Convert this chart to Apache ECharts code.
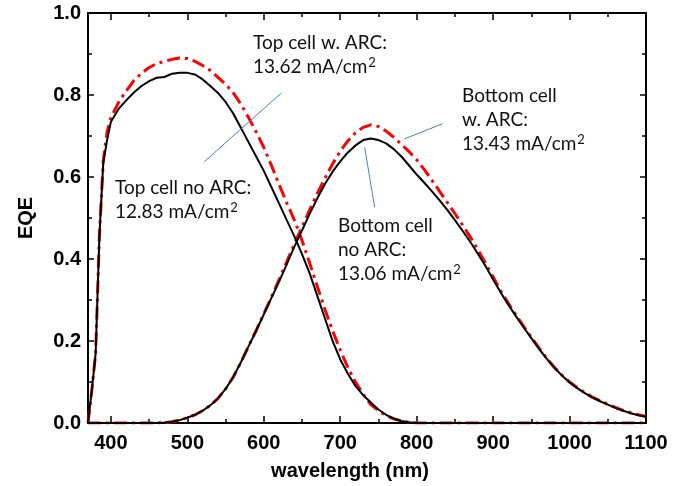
<!DOCTYPE html>
<html>
<head>
<meta charset="utf-8">
<script src="https://cdn.jsdelivr.net/npm/echarts@6/dist/echarts.min.js"></script>
<style>
  html, body { margin: 0; padding: 0; background: #fff; }
  #chart { width: 696px; height: 486px; }
</style>
</head>
<body>
<div id="chart"></div>
<script>
// wavelength grids (nm)
var wlTop = [370, 375, 380, 385, 390, 395, 400, 410, 420, 430, 440, 450, 460, 470, 480, 490, 500,
  510, 520, 530, 540, 550, 560, 570, 580, 590, 600, 610, 620, 630, 640, 650, 660, 670, 680, 690, 700,
  710, 720, 730, 740, 750, 760, 770, 780, 790, 800, 850, 900, 950, 1000, 1050, 1100];
var wlBottom = [370, 420, 460, 470, 480, 490, 500, 510, 520, 530, 540, 550, 560, 570, 580, 590, 600,
  610, 620, 630, 640, 650, 660, 670, 680, 690, 700, 710, 720, 730, 740, 750, 760, 770, 780, 790, 800,
  810, 820, 830, 840, 850, 860, 870, 880, 890, 900, 910, 920, 930, 940, 950, 960, 970, 980, 990, 1000,
  1010, 1020, 1030, 1040, 1050, 1060, 1070, 1080, 1090, 1100];

// EQE values
var topNoArc = [0, 0.08, 0.17, 0.46, 0.635, 0.69, 0.735, 0.766, 0.787, 0.806, 0.822, 0.834, 0.842, 0.844,
  0.852, 0.854, 0.854, 0.85, 0.838, 0.822, 0.805, 0.783, 0.755, 0.72, 0.685, 0.65, 0.615, 0.575, 0.535,
  0.495, 0.455, 0.412, 0.365, 0.31, 0.255, 0.2, 0.155, 0.12, 0.09, 0.068, 0.05, 0.033, 0.02, 0.011,
  0.005, 0.002, 0, 0, 0, 0, 0, 0, 0];
var topArc = [0, 0.08, 0.17, 0.46, 0.64, 0.71, 0.745, 0.782, 0.81, 0.835, 0.853, 0.867, 0.877, 0.882,
  0.887, 0.89, 0.889, 0.882, 0.872, 0.86, 0.843, 0.826, 0.805, 0.778, 0.745, 0.71, 0.672, 0.628, 0.582,
  0.537, 0.495, 0.445, 0.39, 0.333, 0.277, 0.225, 0.178, 0.135, 0.1, 0.07, 0.045, 0.03, 0.018, 0.01,
  0.005, 0.002, 0, 0, 0, 0, 0, 0, 0];
var bottomNoArc = [0, 0, 0, 0.001, 0.003, 0.007, 0.013, 0.02, 0.03, 0.043, 0.06, 0.083, 0.112,
  0.148, 0.187, 0.225, 0.265, 0.305, 0.345, 0.387, 0.43, 0.47, 0.51,
  0.548, 0.583, 0.613, 0.638, 0.66, 0.677, 0.69, 0.694, 0.69, 0.682,
  0.668, 0.65, 0.628, 0.606, 0.586, 0.565, 0.543, 0.52, 0.495, 0.469,
  0.442, 0.413, 0.383, 0.35, 0.318, 0.288, 0.26, 0.233, 0.207, 0.181,
  0.157, 0.135, 0.116, 0.099, 0.085, 0.073, 0.062, 0.053, 0.045, 0.037,
  0.03, 0.024, 0.019, 0.015];
var bottomArc = [0, 0, 0, 0.001, 0.003, 0.007, 0.013, 0.02, 0.03, 0.043, 0.06, 0.083, 0.112,
  0.148, 0.187, 0.226, 0.266, 0.307, 0.35, 0.393, 0.437, 0.478, 0.52,
  0.56, 0.597, 0.632, 0.663, 0.688, 0.708, 0.721, 0.727, 0.723, 0.712,
  0.697, 0.68, 0.662, 0.642, 0.618, 0.592, 0.565, 0.538, 0.511, 0.483,
  0.454, 0.423, 0.39, 0.356, 0.322, 0.292, 0.263, 0.236, 0.209, 0.183,
  0.158, 0.136, 0.117, 0.1, 0.086, 0.074, 0.063, 0.054, 0.046, 0.038,
  0.031, 0.025, 0.02, 0.016];

// axis ticks
var xMajor = [400, 500, 600, 700, 800, 900, 1000, 1100];
var xMinor = [450, 550, 650, 750, 850, 950, 1050];

// annotation texts ({s|2} = superscript)
var notes = [
  'Top cell w. ARC:\n13.62 mA/cm{s|2}',
  'Top cell no ARC:\n12.83 mA/cm{s|2}',
  'Bottom cell\nw. ARC:\n13.43 mA/cm{s|2}',
  'Bottom cell\nno ARC:\n13.06 mA/cm{s|2}'
];
// leader lines, in data coords [wavelength, EQE]
var leaders = [
  [[623, 0.805], [522, 0.637]],
  [[834, 0.73], [784, 0.693]],
  [[732, 0.672], [745, 0.526]]
];

function pairs(xs, ys) {
  return xs.map(function (x, i) { return [x, ys[i]]; });
}

var chart = echarts.init(document.getElementById('chart'));

var tickFont = { color: '#000', fontFamily: 'Liberation Sans', fontWeight: 'bold', fontSize: 20 };

function xAx(pos, ticks, len, withLine, withLabel) {
  return {
    type: 'value', position: pos, min: 370, max: 1100,
    axisLine: { show: withLine, onZero: false, lineStyle: { color: '#000', width: 2 } },
    axisTick: { show: true, inside: true, length: len, customValues: ticks, lineStyle: { color: '#000', width: 1.5 } },
    axisLabel: withLabel ? Object.assign({
      show: true, customValues: xMajor, margin: 10,
      formatter: function (v) { return String(v); }
    }, tickFont) : { show: false },
    splitLine: { show: false }
  };
}

var pos = [[253, 31], [115, 176], [462, 84], [338, 214]];

var option = {
  animation: false,
  grid: { left: 88, right: 50, top: 13, bottom: 62 },
  xAxis: [
    Object.assign(xAx('bottom', xMajor, 7, true, true), {
      name: 'wavelength (nm)', nameLocation: 'middle', nameGap: 38,
      nameTextStyle: Object.assign({ padding: [0, 34, 0, 0] }, tickFont)
    }),
    xAx('bottom', xMinor, 4, false, false),
    xAx('top', xMajor, 7, true, false),
    xAx('top', xMinor, 4, false, false)
  ],
  yAxis: [
    {
      type: 'value', position: 'left', min: 0, max: 1, interval: 0.2,
      name: 'EQE', nameLocation: 'middle', nameGap: 52, nameTextStyle: tickFont,
      axisLine: { show: true, lineStyle: { color: '#000', width: 2 } },
      axisTick: { inside: true, length: 6, lineStyle: { color: '#000', width: 1.5 } },
      minorTick: { show: true, splitNumber: 2, length: 4, lineStyle: { color: '#000', width: 1.5 } },
      axisLabel: Object.assign({ margin: 7, formatter: function (v) { return v.toFixed(1); } }, tickFont),
      splitLine: { show: false }
    },
    {
      type: 'value', position: 'right', min: 0, max: 1, interval: 0.2,
      axisLine: { show: true, lineStyle: { color: '#000', width: 2 } },
      axisTick: { inside: true, length: 6, lineStyle: { color: '#000', width: 1.5 } },
      minorTick: { show: true, splitNumber: 2, length: 4, lineStyle: { color: '#000', width: 1.5 } },
      axisLabel: { show: false },
      splitLine: { show: false }
    }
  ],
  series: [
    {
      name: 'Top cell w. ARC', type: 'line', data: pairs(wlTop, topArc), showSymbol: false,
      lineStyle: { color: '#ff0000', width: 3, type: [13, 5, 3, 5] }
    },
    {
      name: 'Bottom cell w. ARC', type: 'line', data: pairs(wlBottom, bottomArc), showSymbol: false,
      lineStyle: { color: '#ff0000', width: 3, type: [13, 5, 3, 5] }
    },
    {
      name: 'Top cell no ARC', type: 'line', data: pairs(wlTop, topNoArc), showSymbol: false,
      lineStyle: { color: '#000', width: 2 }
    },
    {
      name: 'Bottom cell no ARC', type: 'line', data: pairs(wlBottom, bottomNoArc), showSymbol: false,
      lineStyle: { color: '#000', width: 2 },
      markLine: {
        silent: true, symbol: 'none', label: { show: false },
        lineStyle: { color: '#4a7ebb', width: 1, type: 'solid' },
        data: leaders.map(function (l) { return [{ coord: l[0] }, { coord: l[1] }]; })
      }
    }
  ],
  graphic: notes.map(function (t, i) {
    return {
      type: 'text', left: pos[i][0], top: pos[i][1], z: 10,
      style: {
        text: t, fill: '#111', fontFamily: 'Lato', fontSize: 19, lineHeight: 24,
        rich: { s: { fontFamily: 'Lato', fontSize: 13, fill: '#111', lineHeight: 24, padding: [0, 0, 9, 1] } }
      }
    };
  })
};

chart.setOption(option);
</script>
</body>
</html>
